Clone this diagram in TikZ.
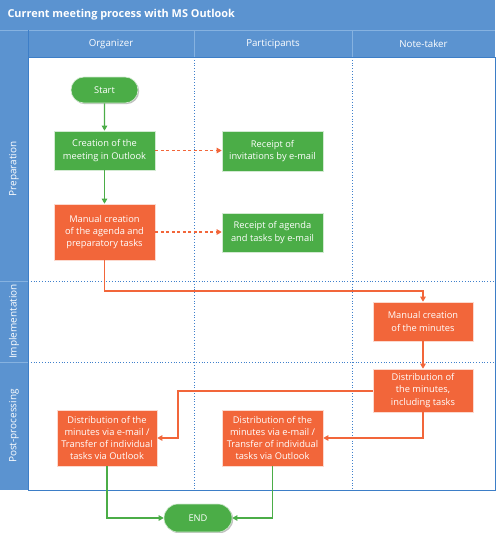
\documentclass[tikz,border=0pt]{standalone}
\usepackage{fontspec}
\setmainfont{Open Sans}
\usetikzlibrary{arrows.meta,shadows,shapes.misc}
\definecolor{lblue}{HTML}{5B93D0}
\definecolor{dblue}{HTML}{3D7EC7}
\definecolor{sepblue}{HTML}{86B2E0}
\definecolor{dotblue}{HTML}{3F80CC}
\definecolor{pgreen}{HTML}{4BAD47}
\definecolor{porange}{HTML}{F2663A}
\tikzset{
  box/.style={draw=white!75!#1, line width=0.6pt, fill=#1, text=white, align=center,
    inner sep=0pt, font=\fontsize{9.3}{12.3}\selectfont,
    drop shadow={shadow xshift=1.2pt,shadow yshift=-1.2pt,opacity=0.25,fill=black}},
  term/.style={box=pgreen, rounded rectangle},
  gline/.style={draw=pgreen, line width=1.1pt, -{Triangle[length=5pt,width=5.5pt]}},
  oline/.style={draw=porange, line width=1.1pt, -{Triangle[length=5pt,width=5.5pt]}},
  odash/.style={oline, dash pattern=on 3pt off 2.5pt},
  lanesep/.style={draw=dotblue, line width=0.8pt, dotted},
  lanelabel/.style={text=white, rotate=90, font=\fontsize{10}{12}\selectfont},
  colhead/.style={text=white, font=\fontsize{9.7}{11}\selectfont}
}
\begin{document}
\begin{tikzpicture}[x=1pt,y=-1pt]
\useasboundingbox (0,0) rectangle (500,533);
% title bar and headers
\fill[lblue] (0,0) rectangle (495,30);
\node[anchor=west, text=white, font=\bfseries\fontsize{10.9}{12}\selectfont] (title) at (4,15) {Current meeting process with MS Outlook};
\fill[lblue] (0,30) rectangle (495,57);
\fill[lblue] (0,57) rectangle (28,490);
\draw[sepblue, line width=0.8pt] (0,30) -- (495,30);
\draw[sepblue, line width=0.8pt] (28,30) -- (28,57);
\draw[sepblue, line width=0.8pt] (194,30) -- (194,57);
\draw[sepblue, line width=0.8pt] (352,30) -- (352,57);
\draw[sepblue, line width=0.8pt] (0,281) -- (28,281);
\draw[sepblue, line width=0.8pt] (0,362) -- (28,362);
\node[colhead] (hOrg) at (111,44) {Organizer};
\node[colhead] (hPart) at (273,44) {Participants};
\node[colhead] (hNote) at (423.5,44) {Note-taker};
\node[lanelabel] (lPrep) at (14,169) {Preparation};
\node[lanelabel] (lImpl) at (14,321.5) {Implementation};
\node[lanelabel] (lPost) at (14,426) {Post-processing};
% lane separators
\draw[lanesep] (194,57) -- (194,490);
\draw[lanesep] (352,57) -- (352,490);
\draw[lanesep] (28,281) -- (495,281);
\draw[lanesep] (28,362) -- (495,362);
\draw[dblue, line width=0.9pt] (28,57) rectangle (495,490);
\draw[dblue, line width=0.9pt] (28,30) -- (28,490);
% nodes
\node[term, minimum width=67pt, minimum height=26pt] (start) at (104.5,90) {Start};
\node[box=pgreen, minimum width=101pt, minimum height=39pt] (create) at (104.5,150.5) {Creation of the\\meeting in Outlook};
\node[box=porange, minimum width=101pt, minimum height=56pt] (agenda) at (104.5,232) {Manual creation\\of the agenda and\\preparatory tasks};
\node[box=pgreen, minimum width=101pt, minimum height=40pt] (recinv) at (272.5,151) {Receipt of\\invitations by e-mail};
\node[box=pgreen, minimum width=101pt, minimum height=39pt] (recag) at (272.5,232.5) {Receipt of agenda\\and tasks by e-mail};
\node[box=porange, minimum width=100pt, minimum height=39pt] (minutes) at (423,321.5) {Manual creation\\of the minutes};
\node[box=porange, minimum width=100pt, minimum height=43pt] (distinc) at (423,390.5) {Distribution of\\the minutes,\\including tasks};
\node[box=porange, minimum width=100pt, minimum height=56pt] (distL) at (107,438) {Distribution of the\\minutes via e-mail /\\Transfer of individual\\tasks via Outlook};
\node[box=porange, minimum width=101pt, minimum height=56pt] (distM) at (272.5,438) {Distribution of the\\minutes via e-mail /\\Transfer of individual\\tasks via Outlook};
\node[term, minimum width=68pt, minimum height=28pt] (end) at (198,518) {END};
% connectors
\coordinate (bend1) at (104.5,291);
\coordinate (bend2) at (178,391);
\draw[gline] (start) -- (create);
\draw[gline] (create) -- (agenda);
\draw[odash] (create.east) -- (create.east -| recinv.west);
\draw[odash] (agenda.east) -- (agenda.east -| recag.west);
\draw[oline] (agenda.south) -- (bend1) -| (minutes.north);
\draw[oline] (minutes) -- (distinc);
\draw[oline] (distinc.west |- bend2) -- (bend2) |- (distL.east);
\draw[oline] (distinc.south) |- (distM.east);
\draw[gline] (distL.south) |- (end.west);
\draw[gline] (distM.south) |- (end.east);
\end{tikzpicture}
\end{document}
